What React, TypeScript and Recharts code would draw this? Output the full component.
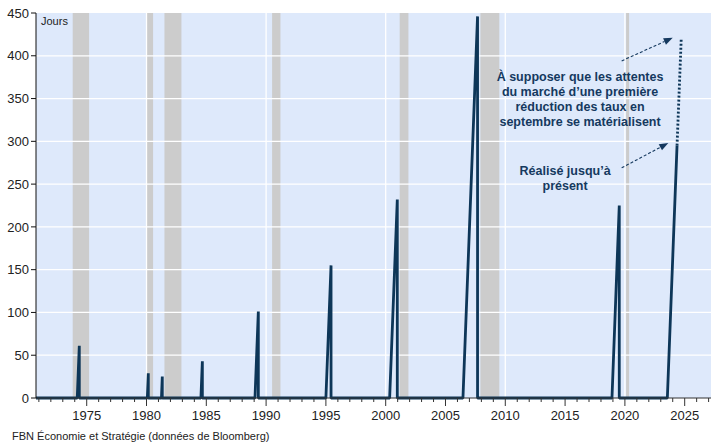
import React from "react";
import {
  LineChart,
  Line,
  XAxis,
  YAxis,
  CartesianGrid,
  ReferenceArea,
  ReferenceLine,
  ReferenceDot,
} from "recharts";

// Recession bands (start, end in decimal years)
const recessionStart = [1973.83, 1980.0, 1981.5, 1990.5, 2001.17, 2007.92, 2020.1];
const recessionEnd = [1975.2, 1980.55, 1982.92, 1991.2, 2001.9, 2009.5, 2020.35];

// Each hold period: last hike -> first cut, with days elapsed at the cut
const holdStart = [1974.21, 1980.07, 1981.25, 1984.55, 1989.07, 1995.0, 2000.33, 2006.46, 2018.92];
const firstCut = [1974.38, 1980.15, 1981.32, 1984.67, 1989.35, 1995.43, 2000.97, 2007.68, 2019.53];
const peakDays = [61, 29, 25, 43, 101, 155, 232, 446, 225];

// Current cycle
const currentStart = 2023.55;
const realizedYear = 2024.36;
const realizedDays = 295;
const expectedCutYear = 2024.71;
const expectedDays = 420;

const yTicks = [0, 50, 100, 150, 200, 250, 300, 350, 400, 450];
const gridYears = [1980, 1990, 2000, 2010, 2020];
const xTicks = Array.from({ length: 57 }, (_, i) => 1971 + i);

const history: { year: number; days: number }[] = [{ year: 1970.76, days: 0 }];
holdStart.forEach((s, i) => {
  history.push({ year: s, days: 0 });
  history.push({ year: firstCut[i], days: peakDays[i] });
  history.push({ year: firstCut[i], days: 0 });
});
history.push({ year: currentStart, days: 0 });
history.push({ year: realizedYear, days: realizedDays });

const projection = [
  { year: realizedYear, days: realizedDays },
  { year: expectedCutYear, days: expectedDays },
];

const NAVY = "#0d3658";
const TEXT_NAVY = "#15395f";
const FONT = "'Liberation Sans', Arial, sans-serif";

const YearTick = (props: any) => {
  const { x, y, payload } = props;
  const v = payload.value;
  const major = v % 5 === 0;
  return (
    <g>
      <line x1={x} x2={x} y1={y} y2={y + (major ? 8 : 4)} stroke="#333" strokeWidth={1} />
      {major && (
        <text x={x} y={y + 22} textAnchor="middle" fontSize={13} fill="#222" fontFamily={FONT}>
          {v}
        </text>
      )}
    </g>
  );
};

const DashedArrow = (props: any) => {
  const { x1, y1, x2, y2 } = props;
  const ang = Math.atan2(y2 - y1, x2 - x1);
  const len = 9;
  const half = 3.5;
  const bx = x2 - len * Math.cos(ang);
  const by = y2 - len * Math.sin(ang);
  const px = -Math.sin(ang) * half;
  const py = Math.cos(ang) * half;
  return (
    <g>
      <line x1={x1} y1={y1} x2={bx} y2={by} stroke={TEXT_NAVY} strokeWidth={1.1} strokeDasharray="3 2" />
      <polygon points={`${x2},${y2} ${bx + px},${by + py} ${bx - px},${by - py}`} fill={TEXT_NAVY} />
    </g>
  );
};

const noteText = (lines: string[]) => (props: any) => {
  const { cx, cy } = props;
  return (
    <text textAnchor="middle" fontSize={12.5} fontWeight="bold" fill={TEXT_NAVY} fontFamily={FONT}>
      {lines.map((l, i) => (
        <tspan key={i} x={cx} y={cy + 5 + i * 15}>
          {l}
        </tspan>
      ))}
    </text>
  );
};

export default function App() {
  return (
    <div style={{ position: "absolute", left: 0, top: 0, width: 711, height: 445, background: "#fff" }}>
      <LineChart
        width={711}
        height={445}
        margin={{ top: 13, right: 0, bottom: 17, left: 0 }}
      >
        <CartesianGrid fill="#dee9fb" stroke="none" horizontal={false} vertical={false} />
        <XAxis
          dataKey="year"
          type="number"
          domain={[1970.76, 2027.2]}
          allowDataOverflow
          ticks={xTicks}
          interval={0}
          tick={<YearTick />}
          tickLine={false}
          tickSize={0}
          tickMargin={0}
          height={30}
          axisLine={{ stroke: "#333" }}
        />
        <YAxis
          type="number"
          domain={[0, 450]}
          ticks={yTicks}
          width={36}
          tickSize={5}
          tickMargin={2}
          tick={{ fill: "#222", fontSize: 13, fontFamily: FONT }}
          tickLine={{ stroke: "#111" }}
          axisLine={{ stroke: "#111" }}
        />
        {recessionStart.map((s, i) => (
          <ReferenceArea key={`r${i}`} x1={s} x2={recessionEnd[i]} fill="#cccccc" fillOpacity={1} stroke="none" />
        ))}
        {yTicks.slice(1, -1).map((v) => (
          <ReferenceLine key={`h${v}`} y={v} stroke="#ffffff" strokeWidth={1.3} />
        ))}
        {gridYears.map((v) => (
          <ReferenceLine key={`v${v}`} x={v} stroke="#ffffff" strokeWidth={1.3} />
        ))}
        <Line
          data={history}
          dataKey="days"
          type="linear"
          stroke={NAVY}
          strokeWidth={2.8}
          strokeLinejoin="bevel"
          dot={false}
          isAnimationActive={false}
        />
        <Line
          data={projection}
          dataKey="days"
          type="linear"
          stroke={NAVY}
          strokeWidth={2.8}
          strokeDasharray="2 2"
          dot={false}
          isAnimationActive={false}
        />
        <ReferenceLine
          segment={[{ x: 2019.73, y: 394 }, { x: 2024.0, y: 421 }]}
          shape={<DashedArrow />}
        />
        <ReferenceLine
          segment={[{ x: 2019.73, y: 269 }, { x: 2023.63, y: 298 }]}
          shape={<DashedArrow />}
        />
        <ReferenceDot
          x={2016.25}
          y={376}
          r={0}
          shape={noteText([
            "À supposer que les attentes",
            "du marché d’une première",
            "réduction des taux en",
            "septembre se matérialisent",
          ])}
        />
        <ReferenceDot
          x={2015.0}
          y={267}
          r={0}
          shape={noteText(["Réalisé jusqu’à", "présent"])}
        />
        <text x={41} y={25} fontSize={11} fill="#222" fontFamily={FONT}>
          Jours
        </text>
      </LineChart>
      <div
        style={{
          position: "absolute",
          left: 12,
          top: 430,
          fontSize: 11,
          fontFamily: FONT,
          color: "#222",
          whiteSpace: "nowrap",
        }}
      >
        FBN Économie et Stratégie (données de Bloomberg)
      </div>
    </div>
  );
}
